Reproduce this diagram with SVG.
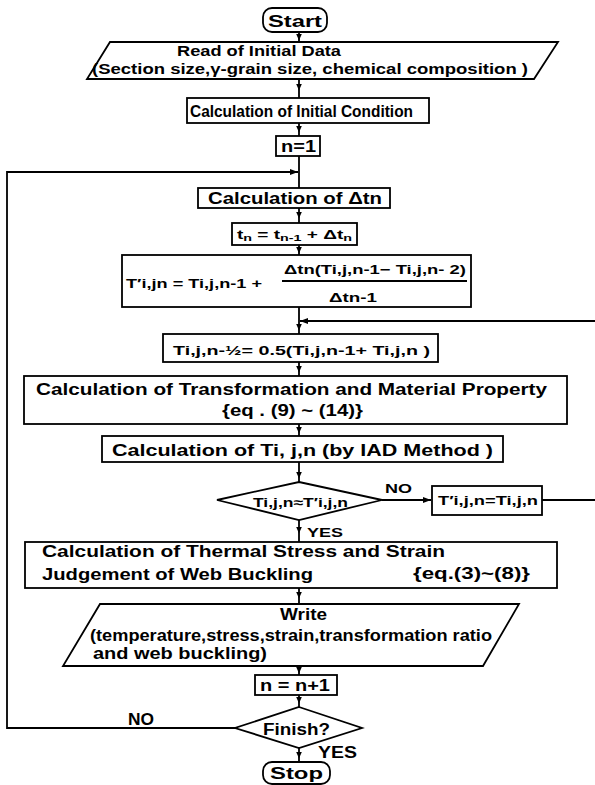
<svg xmlns="http://www.w3.org/2000/svg" width="595" height="785" viewBox="0 0 595 785">
<defs>
<marker id="ah" markerUnits="userSpaceOnUse" markerWidth="7" markerHeight="6" refX="3.5" refY="3" orient="auto">
<path d="M0,0 L7,3 L0,6 z" fill="#000"/>
</marker>
<marker id="ahEnd" markerUnits="userSpaceOnUse" markerWidth="8" markerHeight="6" refX="8" refY="3" orient="auto">
<path d="M0,0 L8,3 L0,6 z" fill="#000"/>
</marker>
<style>
.s{fill:#fff;stroke:#000;stroke-width:1.8}
.c{fill:none;stroke:#000;stroke-width:1.8}
text{font-family:"Liberation Sans",Arial,sans-serif;font-weight:bold;fill:#000;font-size:16px}
.m{font-size:13px}
.sm{font-size:12px}
.b{font-size:17px}
.sub{font-size:9px}
</style>
</defs>
<rect width="595" height="785" fill="#fff"/>

<g id="connectors">
<path class="c" marker-mid="url(#ah)" d="M299,32 L299,37 L299,42"/>
<path class="c" marker-mid="url(#ah)" d="M299,79 L299,87 L299,98"/>
<path class="c" marker-mid="url(#ah)" d="M299,123 L299,129 L299,136"/>
<path class="c" d="M299,156 L299,188"/>
<path class="c" marker-mid="url(#ah)" d="M299,208 L299,215 L299,223"/>
<path class="c" marker-mid="url(#ah)" d="M299,245 L299,250 L299,255"/>
<path class="c" marker-mid="url(#ah)" d="M299,307 L299,327 L299,334"/>
<path class="c" marker-mid="url(#ah)" d="M299,362 L299,369 L299,376"/>
<path class="c" marker-mid="url(#ah)" d="M299,424 L299,430 L299,436"/>
<path class="c" marker-mid="url(#ah)" d="M299,462 L299,475 L299,482"/>
<path class="c" marker-mid="url(#ah)" d="M299,520 L299,530 L299,542"/>
<path class="c" marker-mid="url(#ah)" d="M299,588 L299,595 L299,604"/>
<path class="c" marker-mid="url(#ah)" d="M299,666 L299,670 L299,675"/>
<path class="c" marker-mid="url(#ah)" d="M299,695 L299,700 L299,707"/>
<path class="c" marker-mid="url(#ah)" d="M299,748 L299,755 L299,762"/>
<path class="c" marker-end="url(#ahEnd)" d="M235,728 H7 V172 H298"/>
<path class="c" marker-end="url(#ahEnd)" d="M382,500 H431"/>
<path class="c" marker-end="url(#ahEnd)" d="M542,500 H600 V321 H300"/>
</g>

<g id="start">
<rect class="s" x="263" y="8" width="64" height="24" rx="9"/>
<text class="b" x="268" y="27" textLength="54" lengthAdjust="spacingAndGlyphs">Start</text>
</g>

<g id="read">
<polygon class="s" points="110,42 558,42 534,79 87,79"/>
<text class="m" x="177" y="56" textLength="164" lengthAdjust="spacingAndGlyphs" style="font-size:14px">Read of Initial Data</text>
<text class="m" x="92" y="74" textLength="436" lengthAdjust="spacingAndGlyphs" style="font-size:14px">(Section size,γ-grain size, chemical composition )</text>
</g>

<g id="init">
<rect class="s" x="187" y="98" width="242" height="25"/>
<text x="190" y="117" textLength="223" lengthAdjust="spacingAndGlyphs">Calculation of Initial Condition</text>
</g>

<g id="n1">
<rect class="s" x="276" y="136" width="44" height="20"/>
<text x="281" y="152" textLength="35" lengthAdjust="spacingAndGlyphs">n=1</text>
</g>

<g id="dtn">
<rect class="s" x="198" y="188" width="192" height="20"/>
<text x="208" y="204" textLength="174" lengthAdjust="spacingAndGlyphs">Calculation of  Δtn</text>
</g>

<g id="tn">
<rect class="s" x="232" y="223" width="125" height="22"/>
<text class="sm" x="237" y="239" textLength="115" lengthAdjust="spacingAndGlyphs">t<tspan class="sub" dy="2">n</tspan><tspan dy="-2"> = t</tspan><tspan class="sub" dy="2">n-1</tspan><tspan dy="-2"> + Δt</tspan><tspan class="sub" dy="2">n</tspan></text>
</g>

<g id="tpred">
<rect class="s" x="122" y="255" width="349" height="52"/>
<text class="m" x="126" y="288" textLength="136" lengthAdjust="spacingAndGlyphs">T′i,jn = Ti,j,n-1 +</text>
<text class="m" x="284" y="274" textLength="182" lengthAdjust="spacingAndGlyphs">Δtn(Ti,j,n-1− Ti,j,n- 2)</text>
<line class="c" x1="282" y1="281" x2="467" y2="281"/>
<text class="m" x="329" y="302" textLength="48" lengthAdjust="spacingAndGlyphs">Δtn-1</text>
</g>

<g id="thalf">
<rect class="s" x="163" y="334" width="275" height="28"/>
<text class="m" x="173" y="355" textLength="257" lengthAdjust="spacingAndGlyphs">Ti,j,n-½= 0.5(Ti,j,n-1+ Ti,j,n )</text>
</g>

<g id="transform">
<rect class="s" x="24" y="376" width="543" height="48"/>
<text x="36" y="395" textLength="511" lengthAdjust="spacingAndGlyphs">Calculation of  Transformation  and  Material  Property</text>
<text x="222" y="416" textLength="141" lengthAdjust="spacingAndGlyphs">{eq . (9) ~ (14)}</text>
</g>

<g id="iad">
<rect class="s" x="102" y="436" width="401" height="26"/>
<text x="112" y="456" textLength="381" lengthAdjust="spacingAndGlyphs">Calculation  of  Ti, j,n (by  IAD  Method )</text>
</g>

<g id="check">
<polygon class="s" points="299,482 382,500 299,520 217,500"/>
<text class="m" x="253" y="507" textLength="95" lengthAdjust="spacingAndGlyphs">Ti,j,n≈T′i,j,n</text>
<text class="m" x="385" y="493" textLength="27" lengthAdjust="spacingAndGlyphs">NO</text>
<text class="m" x="307" y="537" textLength="36" lengthAdjust="spacingAndGlyphs">YES</text>
</g>

<g id="update">
<rect class="s" x="432" y="486" width="110" height="29"/>
<text class="m" x="438" y="505" textLength="100" lengthAdjust="spacingAndGlyphs">T′i,j,n=Ti,j,n</text>
</g>

<g id="thermal">
<rect class="s" x="25" y="542" width="532" height="46"/>
<text x="42" y="557" textLength="403" lengthAdjust="spacingAndGlyphs">Calculation  of  Thermal  Stress  and  Strain</text>
<text x="42" y="580" textLength="271" lengthAdjust="spacingAndGlyphs">Judgement  of  Web  Buckling</text>
<text x="413" y="579" textLength="117" lengthAdjust="spacingAndGlyphs">{eq.(3)~(8)}</text>
</g>

<g id="write">
<polygon class="s" points="100,604 519,604 483,666 63,666"/>
<text x="280" y="620" textLength="47" lengthAdjust="spacingAndGlyphs">Write</text>
<text x="90" y="641" textLength="402" lengthAdjust="spacingAndGlyphs">(temperature,stress,strain,transformation ratio</text>
<text x="93" y="659" textLength="174" lengthAdjust="spacingAndGlyphs">and  web  buckling)</text>
</g>

<g id="inc">
<rect class="s" x="255" y="675" width="82" height="20"/>
<text x="260" y="691" textLength="70" lengthAdjust="spacingAndGlyphs">n = n+1</text>
</g>

<g id="finish">
<polygon class="s" points="299,707 362,728 299,748 235,728"/>
<text x="263" y="735" textLength="67" lengthAdjust="spacingAndGlyphs">Finish?</text>
<text x="128" y="725" textLength="26" lengthAdjust="spacingAndGlyphs">NO</text>
<text x="318" y="758" textLength="39" lengthAdjust="spacingAndGlyphs">YES</text>
</g>

<g id="stop">
<rect class="s" x="263" y="762" width="67" height="22" rx="9"/>
<text class="b" x="270" y="779" textLength="53" lengthAdjust="spacingAndGlyphs">Stop</text>
</g>
</svg>
